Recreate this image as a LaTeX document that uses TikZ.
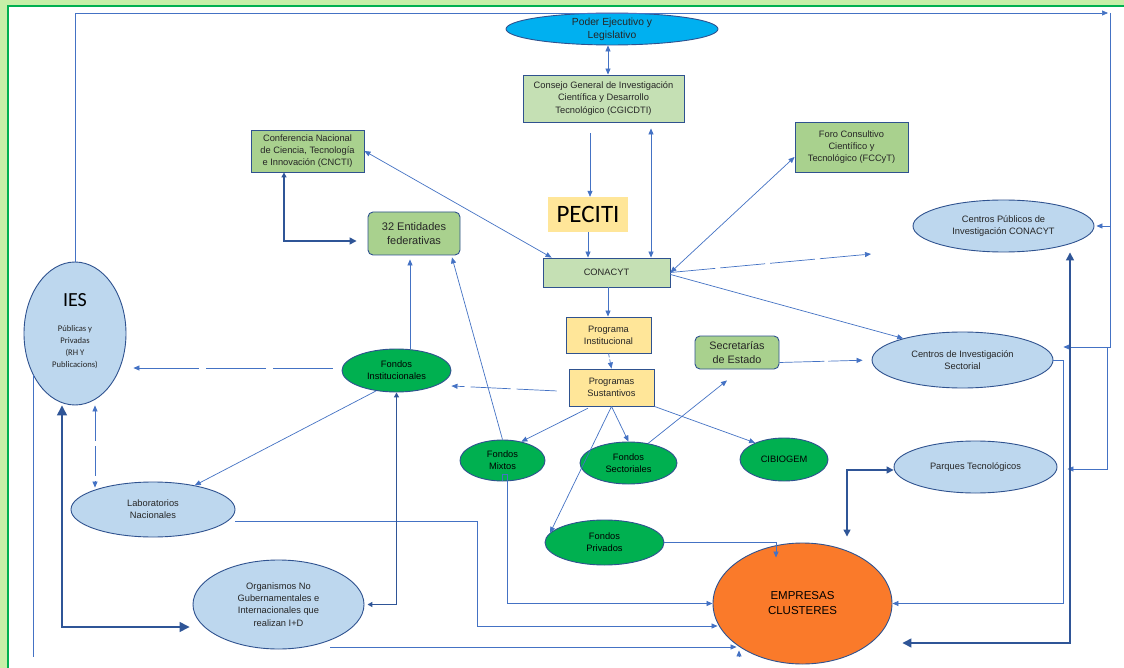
\documentclass[tikz,border=0pt]{standalone}
\usepackage{fontspec}
\setmainfont{Liberation Sans}
\newfontfamily\calib{Carlito}
\usetikzlibrary{shapes.geometric,arrows.meta,calc}
\definecolor{bgg}{HTML}{C6EFA8}
\definecolor{frameg}{HTML}{00B050}
\definecolor{bord}{HTML}{2F528F}
\definecolor{lnk}{HTML}{4472C4}
\definecolor{dk}{HTML}{2F5597}
\definecolor{lgbox}{HTML}{C5E0B4}
\definecolor{mgbox}{HTML}{A9D18E}
\definecolor{ylw}{HTML}{FFE699}
\definecolor{lblue}{HTML}{BDD7EE}
\definecolor{gfill}{HTML}{00B050}
\definecolor{orng}{HTML}{FA7A2A}
\definecolor{cyanf}{HTML}{00B0F0}
\definecolor{txt}{HTML}{262626}
\tikzset{
  basefont/.style={font=\fontsize{9.3}{12.3}\selectfont},
  box/.style={draw=bord, line width=0.9pt, align=center, inner sep=0pt, text=txt, basefont},
  rbox/.style={box, rounded corners=5pt},
  ell/.style={ellipse, draw=bord, line width=0.9pt, align=center, inner sep=0pt, text=txt, basefont},
  conn/.style={draw=lnk, line width=0.7pt, -{Triangle[length=6pt,width=5pt]}},
  conn2/.style={draw=lnk, line width=0.7pt, {Triangle[length=6pt,width=5pt]}-{Triangle[length=6pt,width=5pt]}},
  thk/.style={draw=dk, line width=1.4pt},
  longdash/.style={dash pattern=on 60pt off 7pt},
  middash/.style={dash pattern=on 30pt off 5pt},
  shortdash/.style={dash pattern=on 4pt off 2pt}
}
\begin{document}
\begin{tikzpicture}[x=1pt,y=-1pt]
\useasboundingbox (0,0) rectangle (1124,668);
\fill[bgg] (0,0) rectangle (1124,668);
\fill[white] (9,7) rectangle (1124,668);
\draw[frameg, line width=1.6pt] (8,668) -- (8,6) -- (1124,6);

% nodes
\node[ell, fill=cyanf, minimum width=212, minimum height=30, font=\fontsize{10.3}{13}\selectfont] (poder) at (612,29) {Poder Ejecutivo y\\Legislativo};
\node[box, fill=lgbox, minimum width=161, minimum height=47] (cgicdti) at (603.5,98.5) {Consejo General de Investigación\\Científica y Desarrollo\\Tecnológico (CGICDTI)};
\node[box, fill=mgbox, minimum width=113, minimum height=42] (cncti) at (307.5,151) {Conferencia Nacional\\de Ciencia, Tecnología\\e Innovación (CNCTI)};
\node[box, fill=mgbox, minimum width=113, minimum height=50] (fccyt) at (851.5,147) {Foro Consultivo\\Científico y\\Tecnológico (FCCyT)};
\node[fill=ylw, minimum width=80, minimum height=35, inner sep=0pt, text=black, font=\calib\fontsize{25}{28}\selectfont] (peciti) at (588,214.5) {PECITI};
\node[rbox, fill=mgbox, minimum width=92, minimum height=43, font=\fontsize{11}{14}\selectfont] (ent) at (414,233.5) {32 Entidades\\federativas};
\node[box, fill=lgbox, minimum width=127, minimum height=29] (conacyt) at (606.5,272.5) {CONACYT};
\node[ell, fill=lblue, minimum width=181, minimum height=52] (cpub) at (1003.5,226) {Centros Públicos de\\Investigación CONACYT};
\node[ell, fill=lblue, minimum width=102, minimum height=143] (ies) at (75,333.5) {};
\node[text=black, font=\calib\fontsize{20}{22}\selectfont] (iest) at (75,300) {IES};
\node[text=txt, align=center, font=\calib\fontsize{8.6}{12}\selectfont] (iess) at (75,347) {Públicas y\\Privadas\\(RH Y\\Publicacions)};
\node[box, fill=ylw, minimum width=85, minimum height=36] (pinst) at (608.5,335) {Programa\\Institucional};
\node[box, fill=ylw, minimum width=85, minimum height=37] (psust) at (611.5,387.5) {Programas\\Sustantivos};
\node[rbox, fill=mgbox, minimum width=84, minimum height=33, font=\fontsize{10.8}{14}\selectfont] (secr) at (737,352.5) {Secretarías\\de Estado};
\node[ell, fill=lblue, minimum width=181, minimum height=56] (csect) at (962.5,360) {Centros de Investigación\\Sectorial};
\node[ell, fill=gfill, text=black, minimum width=109, minimum height=43] (finst) at (396.5,370.5) {Fondos\\Institucionales};
\node[ell, fill=gfill, text=black, minimum width=85, minimum height=41] (fmix) at (502.5,460.5) {Fondos\\Mixtos};
\node[ell, fill=gfill, text=black, minimum width=97, minimum height=42] (fsect) at (628.5,463) {Fondos\\Sectoriales};
\node[ell, fill=gfill, text=black, minimum width=88, minimum height=43] (cibio) at (784,459.5) {CIBIOGEM};
\node[ell, fill=lblue, minimum width=163, minimum height=52] (parques) at (975.5,467) {Parques Tecnológicos};
\node[ell, fill=lblue, minimum width=164, minimum height=55] (labs) at (153,509.5) {Laboratorios\\Nacionales};
\node[ell, fill=gfill, text=black, minimum width=119, minimum height=45] (fpriv) at (604.5,542.5) {Fondos\\Privados};
\node[ell, fill=lblue, minimum width=171, minimum height=89] (org) at (278.5,604.5) {Organismos No\\Gubernamentales e\\Internacionales que\\realizan I+D};
\node[ell, fill=orng, text=black, minimum width=179, minimum height=121, font=\fontsize{11.5}{15}\selectfont] (emp) at (802.5,603.5) {EMPRESAS\\CLUSTERES};

\coordinate (tr) at (1108,13);
\coordinate (cfree) at (871,254);

% connectors
\draw[conn2] (poder.south -| 608,0) -- (cgicdti.north -| 608,0);
\draw[conn, shorten <=11pt] (cgicdti.south -| 590,0) -- (peciti.north -| 590,0);
\draw[conn2, shorten <=6pt] (cgicdti.south -| 651,0) -- (conacyt.north -| 651,0);
\draw[conn] (peciti.south -| 588,0) -- (conacyt.north -| 588,0);
\draw[conn2] ([xshift=9pt]conacyt.north west) -- (cncti.east);
\draw[conn2] (conacyt.east) -- ([yshift=-10pt]fccyt.west);
\draw[conn, dash pattern=on 45pt off 5pt] (conacyt.east) -- (cfree);
\draw[conn] ([yshift=-2pt]conacyt.east) -- (csect.160);
\draw[conn] (conacyt.south -| 608,0) -- (pinst.north -| 608,0);
\draw[conn, shortdash] (pinst.south) -- (psust.north);
\draw[conn, dash pattern=on 40pt off 6pt, shorten <=12pt] ([yshift=-4pt]psust.west) -- (finst.east |- 0,386);
\draw[conn, longdash, shorten <=9pt, shorten >=7pt] (finst.west |- 0,368) -- (ies.east |- 0,368);
\draw[conn, shorten >=4pt] (finst.north -| 410,0) -- (ent.south -| 410,0);
\draw[conn, shorten >=2pt] (fmix.north) -- ([xshift=-9pt]ent.south east);
\draw[conn, shorten <=4pt] ([xshift=-20pt]psust.south) -- (fmix.45);
\draw[conn] (psust.south) -- (fsect.north);
\draw[conn] (psust.south east) -- (cibio.150);
\draw[conn] (psust.south) -- (fpriv.170);
\draw[conn] (fsect.45) -- ([yshift=-11pt]secr.south -| 727,0);
\draw[conn, dash pattern=on 45pt off 4pt, shorten >=9pt] ([yshift=-10pt]secr.east) -- (csect.west);
\draw[conn] (finst.225) -- (labs.30);
\draw[conn2, middash, shorten >=-6pt] (ies.south -| 95,0) -- (labs.north -| 95,0);
\draw[thk, {Triangle[length=10pt,width=10pt]}-{Triangle[length=10pt,width=10pt]}, shorten >=3pt] (ies.south -| 62,0) |- (org.west |- 0,627);
\draw[thk, {Triangle[length=5pt,width=5pt]}-{Triangle[length=7pt,width=7pt]}] (cncti.south -| 284,0) |- ([xshift=-11pt]ent.west |- 0,241);
\draw[conn] (ies.north) |- (tr);
\draw[conn] (1110,13) |- ([xshift=10pt]csect.east |- 0,347);
\draw[conn] (1110,226) -- ([xshift=2pt]cpub.east);
\draw[conn] (1107,347) |- ([xshift=10pt]parques.east |- 0,469);
\draw[conn] (csect.east) -- (1063,360) |- (emp.east);
\draw[thk, {Triangle[length=8pt,width=8pt]}-{Triangle[length=9pt,width=9pt]}] (cpub.south -| 1070,0) |- ([xshift=10pt]emp.east |- 0,643);
\draw[thk, {Triangle[length=7pt,width=7pt]}-{Triangle[length=7pt,width=7pt]}] ([yshift=6pt]emp.north -| 847,0) |- (parques.west |- 0,470);
\draw[conn] (fpriv.east) -| ([yshift=-15pt]emp.north -| 776,0);
\draw[conn] (fmix.south -| 502,0) -- ([yshift=7pt]fmix.south -| 502,0) -- ([yshift=7pt]fmix.south -| 507,0) |- (emp.west);
\draw[conn] (labs.east |- 0,521) -| (477,626) -- ([xshift=5pt]emp.west |- 0,626);
\draw[conn] ([xshift=-34pt]org.east |- 0,647) -- ([xshift=24pt]emp.west |- 0,647);
\draw[thk, {Triangle[length=5pt,width=5pt]}-{Triangle[length=5pt,width=5pt]}] (finst.south) |- ([xshift=3pt]org.east);
\draw[draw=lnk, line width=0.7pt] (ies.225) -- (ies.225 |- 0,657);
\draw[conn] (emp.south -| 739,0) ++(0,-7) -- ++(0,-7);
\end{tikzpicture}
\end{document}
